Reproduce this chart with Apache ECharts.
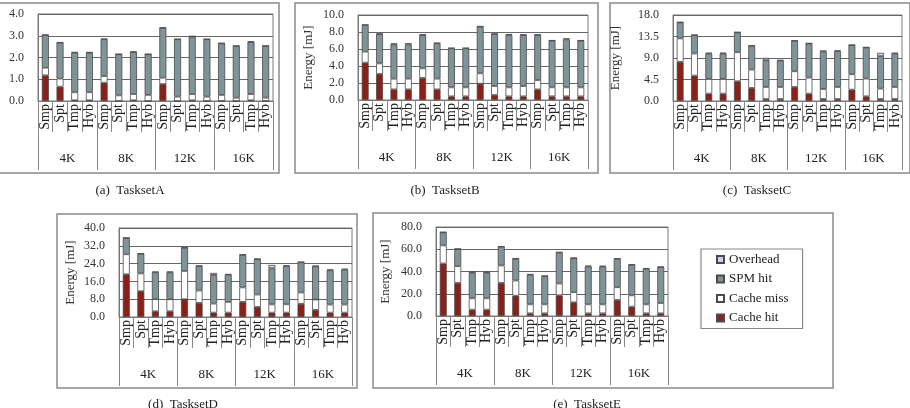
<!DOCTYPE html>
<html>
<head>
<meta charset="utf-8">
<script src="https://cdn.jsdelivr.net/npm/echarts@6/dist/echarts.min.js"></script>
<style>
  html, body { margin: 0; padding: 0; background: #fff; }
  #chart { width: 910px; height: 408px; }
</style>
</head>
<body>
<div id="chart"></div>
<script>
// categories
var kinds = ['Smp', 'Spt', 'Tmp', 'Hyb']
var sizes = ['4K', '8K', '12K', '16K']
var bars = []
sizes.forEach(function (s) { kinds.forEach(function (k) { bars.push(k + ' ' + s) }) })
var seriesNames = ['Cache hit', 'Cache miss', 'SPM hit', 'Overhead']

// TasksetA segments [mJ]
var hitA  = [1.18, 0.66, 0.03, 0.03, 0.84, 0.00, 0.03, 0.00, 0.78, 0.00, 0.03, 0.00, 0.00, 0.00, 0.03, 0.00]
var missA = [0.35, 0.37, 0.37, 0.37, 0.31, 0.26, 0.29, 0.28, 0.29, 0.20, 0.29, 0.20, 0.28, 0.15, 0.29, 0.15]
var spmA  = [1.50, 1.65, 1.82, 1.82, 1.69, 1.89, 1.93, 1.87, 2.29, 2.64, 2.64, 2.64, 2.37, 2.38, 2.39, 2.38]
var ovhA  = [0.02, 0.02, 0.03, 0.03, 0.02, 0.01, 0.03, 0.01, 0.02, 0.01, 0.03, 0.01, 0.01, 0.01, 0.03, 0.01]

// TasksetB
var hitB  = [4.39, 3.06, 1.25, 1.25, 2.59, 1.25, 0.43, 0.43, 1.92, 0.59, 0.43, 0.43, 1.25, 0.43, 0.43, 0.43]
var missB = [1.30, 1.25, 1.26, 1.26, 1.14, 1.26, 1.06, 1.06, 1.22, 1.06, 1.06, 1.22, 1.10, 1.06, 1.06, 1.06]
var spmB  = [3.13, 3.45, 4.04, 4.04, 3.92, 4.16, 4.59, 4.59, 5.49, 6.11, 6.16, 6.00, 5.30, 5.49, 5.65, 5.49]
var ovhB  = [0.05, 0.05, 0.12, 0.12, 0.05, 0.05, 0.05, 0.05, 0.05, 0.05, 0.11, 0.05, 0.05, 0.05, 0.11, 0.05]

// TasksetC
var hitC  = [8.19, 5.32, 1.54, 1.54, 4.13, 2.73, 0.42, 0.42, 2.94, 1.54, 0.42, 0.42, 2.38, 0.98, 0.42, 0.42]
var missC = [4.91, 4.62, 3.08, 3.08, 6.07, 3.85, 2.52, 2.52, 3.29, 3.36, 2.10, 2.52, 3.22, 3.71, 2.17, 2.52]
var spmC  = [3.36, 3.86, 5.32, 5.32, 4.16, 4.97, 5.60, 5.53, 6.37, 7.14, 7.78, 7.49, 6.10, 6.51, 6.79, 7.00]
var ovhC  = [0.05, 0.05, 0.15, 0.15, 0.05, 0.05, 0.50, 0.10, 0.05, 0.05, 0.30, 0.15, 0.05, 0.05, 0.70, 0.15]

// TasksetD
var hitD  = [19.2, 11.6, 2.57, 2.57, 8.0, 6.34, 1.96, 1.96, 6.8, 4.5, 1.96, 1.96, 5.9, 3.2, 1.96, 1.96]
var missD = [9.0, 8.0, 5.43, 5.43, 12.7, 5.56, 4.08, 4.84, 6.5, 5.6, 3.74, 3.74, 5.1, 4.65, 3.64, 3.64]
var spmD  = [7.3, 8.8, 12.1, 12.1, 10.4, 11.0, 12.86, 12.2, 14.6, 15.9, 16.2, 17.2, 13.6, 14.95, 15.4, 15.7]
var ovhD  = [0.2, 0.2, 0.3, 0.3, 0.2, 0.2, 0.9, 0.3, 0.2, 0.2, 1.5, 0.3, 0.2, 0.2, 0.4, 0.4]

// TasksetE
var hitE  = [47.2, 29.8, 5.7, 5.7, 29.8, 18.3, 2.4, 2.4, 18.6, 12.3, 2.4, 2.4, 14.4, 8.4, 2.4, 2.4]
var missE = [16.3, 15.0, 10.2, 10.2, 15.6, 13.6, 8.1, 8.1, 10.6, 9.1, 8.1, 8.1, 11.5, 10.2, 8.1, 9.3]
var spmE  = [11.7, 15.4, 23.2, 23.2, 16.9, 19.5, 26.5, 25.3, 27.9, 30.6, 34.0, 34.0, 25.5, 27.4, 31.9, 32.2]
var ovhE  = [0.3, 0.3, 0.5, 0.5, 0.3, 0.3, 0.8, 0.5, 0.3, 0.3, 0.8, 0.6, 0.3, 0.3, 0.6, 0.5]

// y axis ticks
var yMax = [4, 10, 18, 40, 80]
var yStep = [1, 2, 4.5, 8, 20]

var panels = [
  { data: [hitA, missA, spmA, ovhA], grid: { left: 38, top: 14, width: 235, height: 87 }, nameGap: 38, caption: '(a)  TasksetA', cx: 130, cy: 191 },
  { data: [hitB, missB, spmB, ovhB], grid: { left: 358, top: 15, width: 230, height: 85 }, nameGap: 43, caption: '(b)  TasksetB', cx: 445, cy: 191 },
  { data: [hitC, missC, spmC, ovhC], grid: { left: 673, top: 15, width: 229, height: 86 }, nameGap: 51, caption: '(c)  TasksetC', cx: 757, cy: 191 },
  { data: [hitD, missD, spmD, ovhD], grid: { left: 119, top: 228, width: 233, height: 89 }, nameGap: 42, caption: '(d)  TasksetD', cx: 183, cy: 405 },
  { data: [hitE, missE, spmE, ovhE], grid: { left: 436, top: 227, width: 232, height: 89 }, nameGap: 44, caption: '(e)  TasksetE', cx: 587, cy: 405 }
]

var frames = [
  [-2, 3, 281, 170],
  [295, 3, 303, 170],
  [610, 3, 300, 170],
  [57, 214, 300, 174],
  [373, 213, 460, 175]
]

var colors = ['#8b2019', '#ffffff', '#7f9498', '#c9d1ec']
var font = 'Liberation Serif'

var grids = [], xAxes = [], yAxes = [], series = [], graphics = []

panels.forEach(function (p, i) {
  // keep the plot where it is even when the axis name runs off the page
  grids.push(Object.assign({ show: true, borderColor: '#7a7a7a', borderWidth: 1, outerBoundsMode: 'none', containLabel: false }, p.grid))

  xAxes.push({
    type: 'category', gridIndex: i, data: bars,
    axisLine: { lineStyle: { color: '#777' } },
    axisTick: { show: true, interval: 0, length: 31, lineStyle: { color: '#888' } },
    axisLabel: {
      interval: 0, rotate: 90, margin: 3, fontFamily: font, fontSize: 14, color: '#222',
      formatter: function (v) { return v.split(' ')[0] }
    }
  })
  xAxes.push({
    type: 'category', gridIndex: i, data: sizes, position: 'bottom',
    axisLine: { show: false },
    axisTick: { show: true, interval: 0, length: 69, lineStyle: { color: '#888' } },
    axisLabel: { interval: 0, margin: 51, fontFamily: font, fontSize: 13, color: '#222' }
  })

  yAxes.push({
    type: 'value', gridIndex: i, min: 0, max: yMax[i], interval: yStep[i],
    name: 'Energy [mJ]', nameLocation: 'middle', nameGap: p.nameGap,
    nameTextStyle: { fontFamily: font, fontSize: 13, color: '#333' },
    axisLine: { show: true, lineStyle: { color: '#777' } },
    axisTick: { show: false },
    splitLine: { lineStyle: { color: '#666', width: 1 } },
    axisLabel: {
      margin: 14, fontFamily: font, fontSize: 12, color: '#333',
      formatter: function (v) { return v.toFixed(1) }
    }
  })

  p.data.forEach(function (vals, k) {
    series.push({
      name: seriesNames[k], type: 'bar', stack: 'tot' + i,
      xAxisIndex: 2 * i, yAxisIndex: i,
      barWidth: '48%',
      data: vals,
      itemStyle: { color: colors[k], borderColor: '#4a4a4a', borderWidth: 0.8 },
      emphasis: { disabled: true }
    })
  })

  var f = frames[i]
  graphics.push({
    type: 'rect', shape: { x: f[0], y: f[1], width: f[2], height: f[3] },
    style: { fill: null, stroke: '#8a8a8a', lineWidth: 1.5 }, silent: true
  })
  graphics.push({
    type: 'text', x: p.cx, y: p.cy,
    style: { text: p.caption, fontFamily: font, fontSize: 13, fill: '#222', align: 'center', verticalAlign: 'middle' }
  })
})

var chart = echarts.init(document.getElementById('chart'), null, { renderer: 'canvas' })
chart.setOption({
  animation: false,
  grid: grids,
  xAxis: xAxes,
  yAxis: yAxes,
  series: series,
  legend: {
    data: ['Overhead', 'SPM hit', 'Cache miss', 'Cache hit'],
    orient: 'vertical', left: 701, top: 249,
    padding: [4, 14, 4, 15],
    itemGap: 6.5, itemWidth: 7, itemHeight: 7, icon: 'rect',
    borderColor: '#888', borderWidth: 1.2,
    textStyle: { fontFamily: font, fontSize: 13, color: '#222' },
    selectedMode: false
  },
  graphic: graphics
})
</script>
</body>
</html>
